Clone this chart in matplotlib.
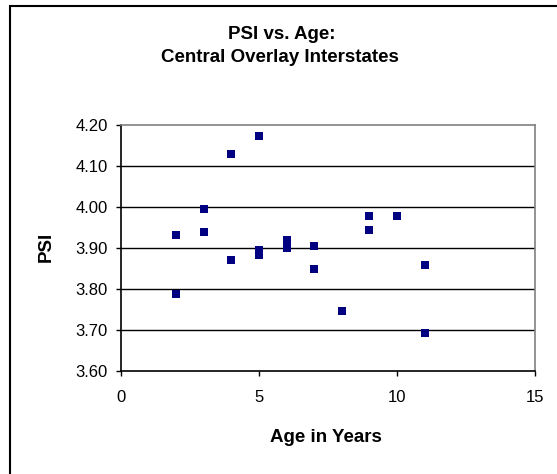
import matplotlib
matplotlib.use('Agg')
from matplotlib import pyplot as plt
from matplotlib.patches import Rectangle

plt.rcParams['font.family'] = ['Liberation Sans', 'DejaVu Sans']

# age in years vs. PSI
ages = [2, 2, 3, 3, 4, 4, 5, 5, 5, 6, 6, 7, 7, 8, 9, 9, 10, 11, 11]
psi = [3.931, 3.789, 3.996, 3.940, 4.130, 3.871, 4.173, 3.894, 3.884,
       3.919, 3.901, 3.906, 3.850, 3.746, 3.979, 3.943, 3.979, 3.858, 3.693]

x_ticks = [0, 5, 10, 15]
y_ticks = [3.60, 3.70, 3.80, 3.90, 4.00, 4.10, 4.20]

fig = plt.figure(figsize=(5.57, 4.74), dpi=100)
W, H = 557.0, 474.0
ax = fig.add_axes([121 / W, 1 - 371 / H, (535 - 121) / W, (371 - 125) / H])

# chart frame (only left and top edges show in the crop)
fig.patches.append(Rectangle((9.5 / W, -0.1), 1.2, 1 - 5.5 / H + 0.1,
                             transform=fig.transFigure, fill=False,
                             edgecolor='black', linewidth=1.5))

for y in y_ticks[1:-1]:
    ax.axhline(y, color='black', linewidth=1.0, zorder=1)

ax.scatter(ages, psi, marker='s', s=26, color='#000080', zorder=3, linewidths=0)

ax.set_xlim(0, 15)
ax.set_ylim(3.60, 4.20)
ax.set_xticks(x_ticks)
ax.set_yticks(y_ticks)
ax.set_yticklabels(['%.2f' % v for v in y_ticks])
ax.tick_params(axis='both', direction='out', length=3.5, width=1, labelsize=12,
               colors='black')
ax.tick_params(axis='x', pad=10.5)
ax.tick_params(axis='y', pad=6)

ax.spines['left'].set_color('black')
ax.spines['bottom'].set_color('black')
ax.spines['top'].set_color('#808080')
ax.spines['right'].set_color('#808080')
for s in ax.spines.values():
    s.set_linewidth(1.2)

fig.text(282 / W, 1 - 39 / H, 'PSI vs. Age:', ha='center', va='baseline',
         fontsize=13.5, fontweight='bold')
fig.text(280 / W, 1 - 62 / H, 'Central Overlay Interstates', ha='center',
         va='baseline', fontsize=13.5, fontweight='bold')
fig.text(326 / W, 1 - 442 / H, 'Age in Years', ha='center', va='baseline',
         fontsize=13.5, fontweight='bold')
fig.text(46 / W, 1 - 247 / H, 'PSI', ha='center', va='center', rotation=90,
         fontsize=13.5, fontweight='bold')

fig.savefig('out.png', dpi=100)
